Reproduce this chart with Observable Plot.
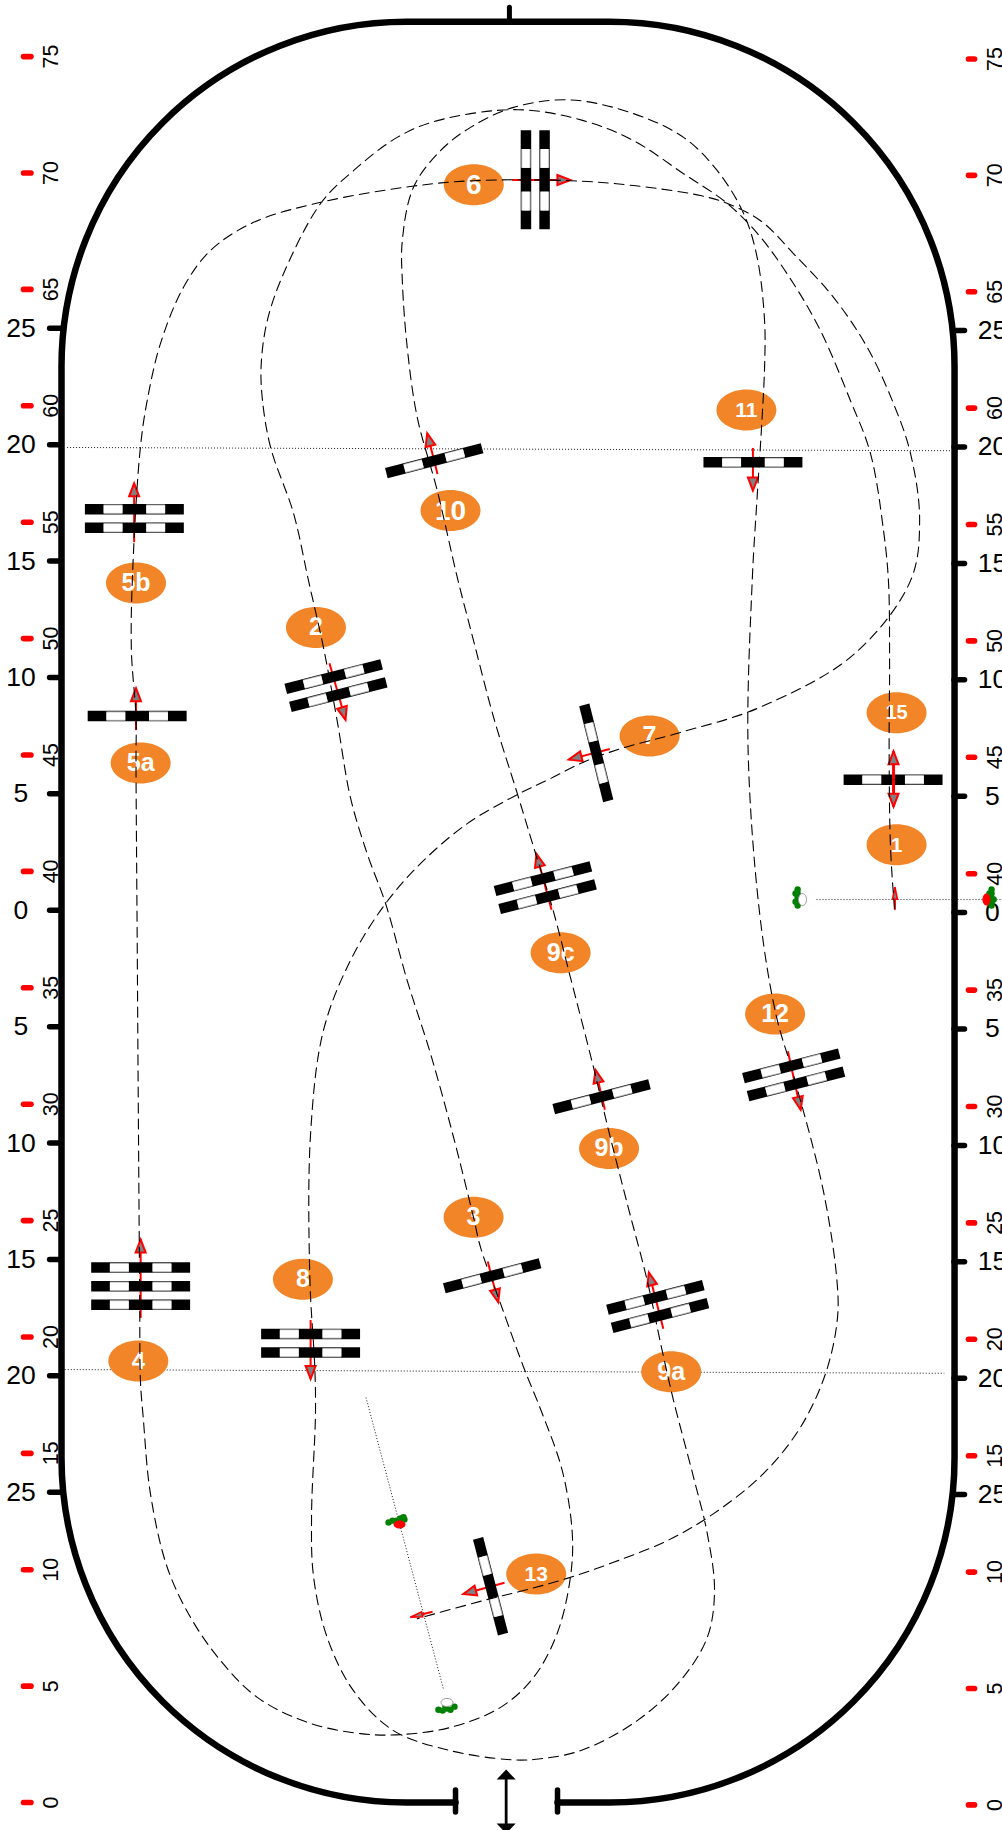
<!DOCTYPE html>
<html><head><meta charset="utf-8">
<style>html,body{margin:0;padding:0;background:#fff}svg{display:block}</style>
<script src="https://cdn.jsdelivr.net/npm/d3@7"></script>
<script src="https://cdn.jsdelivr.net/npm/@observablehq/plot@0.6"></script>
</head><body><div id="chart"></div>
<script>
// Units are metres: x across the arena from its centre, y along it from the entry.
const redTicks = [0,5,10,15,20,25,30,35,40,45,50,55,60,65,70,75];
const blackOffsets = [25,20,15,10,5,0,-5,-10,-15,-20,-25];
const arenaCentreY = 38.33;

const wall = [[-2.255,0],[-19.18,0],[-19.18,76.5],[19.18,76.5],[19.18,0],[2.126,0]];

const track = [[16.6,38.4],[16.43,41.02],[16.37,45.32],[16.39,49.05],[16.34,52.49],[16.13,54.64],[15.57,57.95],[14.71,60.22],[13.42,63.23],[12.26,65.25],[10.85,67.24],[9.42,68.69],[7.54,69.97],[5.39,71.39],[3.24,72.25],[0.4,72.72],[-3.04,72.25],[-4.76,71.53],[-6.64,70.1],[-8.05,68.69],[-9.64,65.68],[-10.34,63.66],[-10.6,61.81],[-10.56,60.37],[-10.2,58.22],[-9.21,55.37],[-8.57,52.49],[-7.93,49.63],[-7.34,46.48],[-6.77,43.18],[-6.05,40.76],[-5.26,38.62],[-4.33,35.31],[-3.33,32.17],[-2.34,28.58],[-1.48,25.13],[-1.18,23.85],[-0.32,21.43],[0.67,18.7],[1.42,16.84],[2.33,14.26],[2.76,11.55],[2.68,9.68],[2.11,7.26],[1.1,5.38],[-0.32,4.09],[-2.47,3.23],[-4.62,2.92],[-6.34,2.96],[-8.63,3.45],[-10.77,4.52],[-12.35,6.1],[-13.64,7.96],[-14.64,10.11],[-15.36,13.27],[-15.67,16.55],[-15.79,18.13],[-15.82,21.56],[-15.88,29.73],[-15.93,37.28],[-15.98,44.63],[-15.98,46.65],[-16.18,49.57],[-16.09,53.65],[-15.79,58.22],[-15.5,60.22],[-14.93,62.67],[-13.94,65.09],[-12.78,66.67],[-10.93,67.88],[-8.05,68.74],[-4.19,69.42],[-1.48,69.67],[2.68,69.67],[5.39,69.46],[8.27,69.03],[9.42,68.69],[10.85,67.95],[12.26,66.54],[13.98,64.66],[15.43,62.51],[16.56,60.09],[17.29,57.95],[17.68,55.07],[17.29,52.49],[14.84,49.31],[10.8,47.04],[7.41,45.97],[4.83,45.27],[3.24,44.69],[1.83,43.99],[0.4,43.3],[-1.75,42.05],[-3.63,40.46],[-5.26,38.62],[-6.77,36.17],[-7.93,33.16],[-8.48,28.74],[-8.51,22.47],[-8.3,18.7],[-8.27,16.71],[-8.44,12.26],[-8.35,9.68],[-7.77,7.1],[-6.64,4.81],[-4.92,3.09],[-2.47,2.23],[-0.03,1.85],[1.1,1.85],[3.11,2.23],[5.55,3.52],[7.41,5.24],[8.56,7.1],[8.87,9.11],[8.56,11.55],[7.97,13.97],[7.11,17.27],[6.62,19.42],[5.98,22.42],[5.12,25.73],[4.32,28.87],[3.67,31.59],[2.68,35.45],[1.9,38.46],[1.1,41.04],[0.4,43.34],[-0.62,46.62],[-1.48,49.91],[-2.18,52.63],[-3.04,56.36],[-3.9,59.51],[-4.33,62.51],[-4.54,65.38],[-4.54,67.1],[-4.06,69.39],[-2.9,70.96],[-1.61,71.96],[0.24,72.82],[2.68,73.14],[5.39,72.55],[7.54,71.53],[8.99,70.1],[10.12,68.26],[10.7,66.38],[11.02,63.66],[11.02,61.65],[10.89,59.08],[10.7,56.07],[10.49,52.49],[10.31,45.32],[10.8,38.27],[11.51,33.85],[12.26,31.25],[13.55,26.25],[14.14,22.29],[14.14,20.7],[13.64,18.43],[12.56,16.12],[10.97,14.13],[8.83,12.41],[6.84,11.25],[4.53,10.32],[2.54,9.63],[0.67,9.11],[-1.05,8.68],[-3.9,7.9]];

const gateNames = ["1/15","2","3","4","5a","5b","6","7","8","9a","9b","9c","10","11","12","13"];
const gateX = [16.54,-7.39,-0.68,-15.78,-15.93,-16.05,1.17,3.79,-8.48,6.43,4.02,1.6,-3.17,10.52,12.27,-0.75];
const gateY = [43.94,47.98,22.63,22.18,46.67,55.16,69.71,45.09,19.73,21.31,30.32,39.3,57.64,57.57,31.26,9.29];
const gateAngle = [0,-14.4,-14.6,0,0,0,90,76,0,-14.4,-14.6,-14.4,-14.6,0,-14.4,75.4];
const gateBars = [1,2,1,3,1,2,2,1,2,2,1,2,1,1,2,1];

const labels = ["1","15","2","3","4","5a","5b","6","7","8","9a","9b","9c","10","11","12","13"];
const labelX = [16.69,16.69,-8.25,-1.48,-15.88,-15.78,-15.98,-1.47,6.08,-8.81,7.01,4.34,2.26,-2.47,10.24,11.47,1.21];
const labelY = [41.14,46.81,50.48,25.14,18.97,44.66,52.39,69.49,45.82,22.48,18.51,28.1,36.5,55.5,59.82,33.87,9.82];
const labelSize = [21,20,25,25,24,25,25,28,25,25,25,25,25,28,21,25,21];

const arrowTailX = [16.62,16.56,16.56,-7.67,-0.87,-15.78,-15.98,-16.06,0.18,4.37,-8.48,6.67,4.16,1.87,-3.03,10.52,12.02,-0.15,-3.24];
const arrowTailY = [38.35,43.94,43.94,48.94,23.24,20.82,46.07,54.14,69.7,45.26,20.73,20.35,29.76,38.35,57.07,58.19,32.27,9.44,8.2];
const arrowTipX = [16.62,16.56,16.56,-6.98,-0.42,-15.78,-15.98,-16.06,2.68,2.61,-8.48,6.05,3.76,1.22,-3.47,10.52,12.57,-1.92,-4.19];
const arrowTipY = [39.32,45.16,42.78,46.51,21.49,24.19,47.87,56.67,69.7,44.8,18.2,22.77,31.47,40.75,58.82,56.36,29.76,8.96,7.96];
const arrowSmall = [1,0,0,0,0,0,0,0,0,0,0,0,0,0,0,0,0,0,1];
const arrowOnTop = [0,1,1,0,0,0,0,0,0,0,0,0,0,0,0,0,0,0,0];

const guideLines = [
  {x1:-18.94,y1:58.21,x2:19,y2:58.07},
  {x1:-19.04,y1:18.6,x2:18.74,y2:18.44},
  {x1:13.25,y1:38.79,x2:21.24,y2:38.79},
  {x1:-6.1,y1:17.4,x2:-2.78,y2:4.9}
];
const greenX = [-5.13,-4.96,-4.79,-4.62,-4.49,-4.45,-2.99,-2.81,-2.64,-2.47,-2.3,-2.69,12.44,12.44,12.44,12.44,12.44,12.53,12.35,12.35,20.77,20.77,20.77,20.77,20.77,20.86,20.68,20.68];
const greenY = [12.03,12.11,12.11,12.2,12.26,12.16,3.99,3.95,4.04,3.99,4.12,4.12,39.22,39.05,38.87,38.7,38.53,38.79,39.05,38.7,39.22,39.05,38.87,38.7,38.53,38.79,39.05,38.7];

function oval(w,h){const a=w/2,b=h/2,k=0.5523;return {draw(c){c.moveTo(a,0);
  c.bezierCurveTo(a,k*b,k*a,b,0,b);c.bezierCurveTo(-k*a,b,-a,k*b,-a,0);
  c.bezierCurveTo(-a,-k*b,-k*a,-b,0,-b);c.bezierCurveTo(k*a,-b,a,-k*b,a,0);c.closePath();}};}
function head(w,h){return {draw(c){c.moveTo(0,0);c.lineTo(w/2,h);c.lineTo(-w/2,h);c.closePath();}};}
// d3 curve that joins straight runs with round corners of a fixed radius
function roundCorners(r){return ctx=>{let p=[];return {
  areaStart(){},areaEnd(){},lineStart(){p=[];},point(x,y){p.push([+x,+y]);},
  lineEnd(){ctx.moveTo(p[0][0],p[0][1]);
    for(let i=1;i<p.length-1;i++)ctx.arcTo(p[i][0],p[i][1],p[i+1][0],p[i+1][1],r);
    ctx.lineTo(p[p.length-1][0],p[p.length-1][1]);}
};};}

const gateRows = gateNames.map((name,i)=>{
  const t=gateAngle[i]*Math.PI/180, ux=Math.cos(t), uy=-Math.sin(t), nx=Math.sin(t), ny=Math.cos(t), L=4.25, gap=0.8;
  return d3.range(gateBars[i]).map(k=>{
    const o=(k-(gateBars[i]-1)/2)*gap, cx=gateX[i]+nx*o, cy=gateY[i]+ny*o;
    const seg=(a,b)=>({x1:cx+ux*L*a,y1:cy+uy*L*a,x2:cx+ux*L*b,y2:cy+uy*L*b});
    return {bar:seg(-.5,.5),white:[seg(-.311,-.12),seg(.12,.311)]};
  });
}).flat();
const gateBlack = gateRows.map(d=>d.bar), gateWhite = gateRows.flatMap(d=>d.white);
const arrows = arrowTailX.map((_,i)=>({x1:arrowTailX[i],y1:arrowTailY[i],x2:arrowTipX[i],y2:arrowTipY[i],small:arrowSmall[i],top:arrowOnTop[i],
  a:Math.atan2(arrowTipX[i]-arrowTailX[i],arrowTipY[i]-arrowTailY[i])*180/Math.PI}));
const labelRows = labels.map((t,i)=>({t,x:labelX[i],y:labelY[i],s:labelSize[i]}));
const font = "'Liberation Sans',Arial,sans-serif";
const rightShift = -0.1;
const red = "#ff0000";
const arrowMarks = rows => [
  Plot.link(rows,{x1:"x1",y1:"y1",x2:"x2",y2:"y2",stroke:red,strokeWidth:d=>d.top?3:2}),
  Plot.dot(rows.filter(d=>!d.small),{x:"x2",y:"y2",rotate:"a",symbol:head(10,13),fill:"#808080",stroke:red,strokeWidth:2}),
  Plot.dot(rows.filter(d=>d.small),{x:"x2",y:"y2",rotate:"a",symbol:head(5,12),fill:"#808080",stroke:red,strokeWidth:1.6})
];

const plot = Plot.plot({
  width:1002,height:1830,margin:0,
  x:{domain:[-21.8,21.24],range:[0,1002],axis:null},
  y:{domain:[-1.2,77.41],range:[1830,0],axis:null},
  style:{background:"#fff",overflow:"hidden"},
  marks:[
    Plot.link(guideLines,{x1:"x1",y1:"y1",x2:"x2",y2:"y2",stroke:"#000",strokeWidth:0.9,strokeDasharray:"1 2"}),
    // arena wall, centre ticks
    Plot.line(wall,{x:d=>d[0],y:d=>d[1],curve:roundCorners(345),stroke:"#000",strokeWidth:6.5,strokeLinecap:"round",strokeLinejoin:"round"}),
    Plot.ruleX([-2.255,2.126],{y1:-0.43,y2:0.515,stroke:"#000",strokeWidth:5.5,strokeLinecap:"round"}),
    Plot.ruleX([0.06],{y1:76.5,y2:77.1,stroke:"#000",strokeWidth:5,strokeLinecap:"round"}),
    // entry double arrow
    Plot.ruleX([-0.08],{y1:-1.0,y2:1.1,stroke:"#000",strokeWidth:2.8}),
    Plot.dot([[-0.08,1.42,0],[-0.08,-1.33,180]],{x:d=>d[0],y:d=>d[1],rotate:d=>d[2],symbol:head(19,10),fill:"#000",stroke:"none"}),
    // red scale
    Plot.ruleY(redTicks,{x1:-20.79,x2:-20.47,stroke:red,strokeWidth:5.6,strokeLinecap:"round"}),
    Plot.ruleY(redTicks,{y:d=>d+rightShift,x1:19.8,x2:20.06,stroke:red,strokeWidth:5.6,strokeLinecap:"round"}),
    Plot.text(redTicks,{x:()=>-19.61,y:d=>d,text:d=>String(d),rotate:-90,fontSize:21.5,fontFamily:font,fill:"#000"}),
    Plot.text(redTicks,{x:()=>20.94,y:d=>d+rightShift,text:d=>String(d),rotate:-90,fontSize:21.5,fontFamily:font,fill:"#000"}),
    // black scale
    Plot.ruleY(blackOffsets,{y:d=>arenaCentreY+d,x1:-19.67,x2:-19.18,stroke:"#000",strokeWidth:5.5,strokeLinecap:"round"}),
    Plot.ruleY(blackOffsets,{y:d=>arenaCentreY+d+rightShift,x1:19.18,x2:19.63,stroke:"#000",strokeWidth:5.5,strokeLinecap:"round"}),
    Plot.text(blackOffsets,{x:()=>-20.92,y:d=>arenaCentreY+d,text:d=>String(Math.abs(d)),fontSize:26.5,fontFamily:font,fill:"#000"}),
    Plot.text(blackOffsets,{x:()=>20.81,y:d=>arenaCentreY+d+rightShift,text:d=>String(Math.abs(d)),fontSize:26.5,fontFamily:font,fill:"#000"}),
    // number ovals and numbers
    Plot.dot(labelRows,{x:"x",y:"y",symbol:oval(60,41),fill:"#F28528",stroke:"none"}),
    Plot.text(labelRows,{x:"x",y:"y",text:"t",fontSize:"s",fontWeight:"bold",fontFamily:font,fill:"#fff"}),
    // judges / markers
    Plot.dot(greenX.map((x,i)=>[x,greenY[i]]),{x:d=>d[0],y:d=>d[1],r:3.2,fill:"#008000",stroke:"none"}),
    Plot.dot([[-4.66,11.94]],{x:d=>d[0],y:d=>d[1],symbol:oval(12,8),fill:red,stroke:"none"}),
    Plot.dot([[20.55,38.79]],{x:d=>d[0],y:d=>d[1],symbol:oval(8,12),fill:red,stroke:"none"}),
    Plot.dot([[-2.62,4.3]],{x:d=>d[0],y:d=>d[1],symbol:oval(12,8),fill:"#fff",stroke:"#999",strokeWidth:1}),
    Plot.dot([[12.65,38.79]],{x:d=>d[0],y:d=>d[1],symbol:oval(8,12),fill:"#fff",stroke:"#999",strokeWidth:1}),
    // arrows under the gates
    ...arrowMarks(arrows.filter(d=>!d.top)),
    // gates
    Plot.link(gateBlack,{x1:"x1",y1:"y1",x2:"x2",y2:"y2",stroke:"#000",strokeWidth:10.5}),
    Plot.link(gateWhite,{x1:"x1",y1:"y1",x2:"x2",y2:"y2",stroke:"#aaa",strokeWidth:9.5}),
    Plot.link(gateWhite,{x1:"x1",y1:"y1",x2:"x2",y2:"y2",stroke:"#fff",strokeWidth:7.5}),
    ...arrowMarks(arrows.filter(d=>d.top)),
    // the ride
    Plot.line(track,{x:d=>d[0],y:d=>d[1],curve:"catmull-rom",stroke:"#000",strokeWidth:1.1,strokeDasharray:"10 6"})
  ]
});
document.getElementById("chart").append(plot);
</script></body></html>
